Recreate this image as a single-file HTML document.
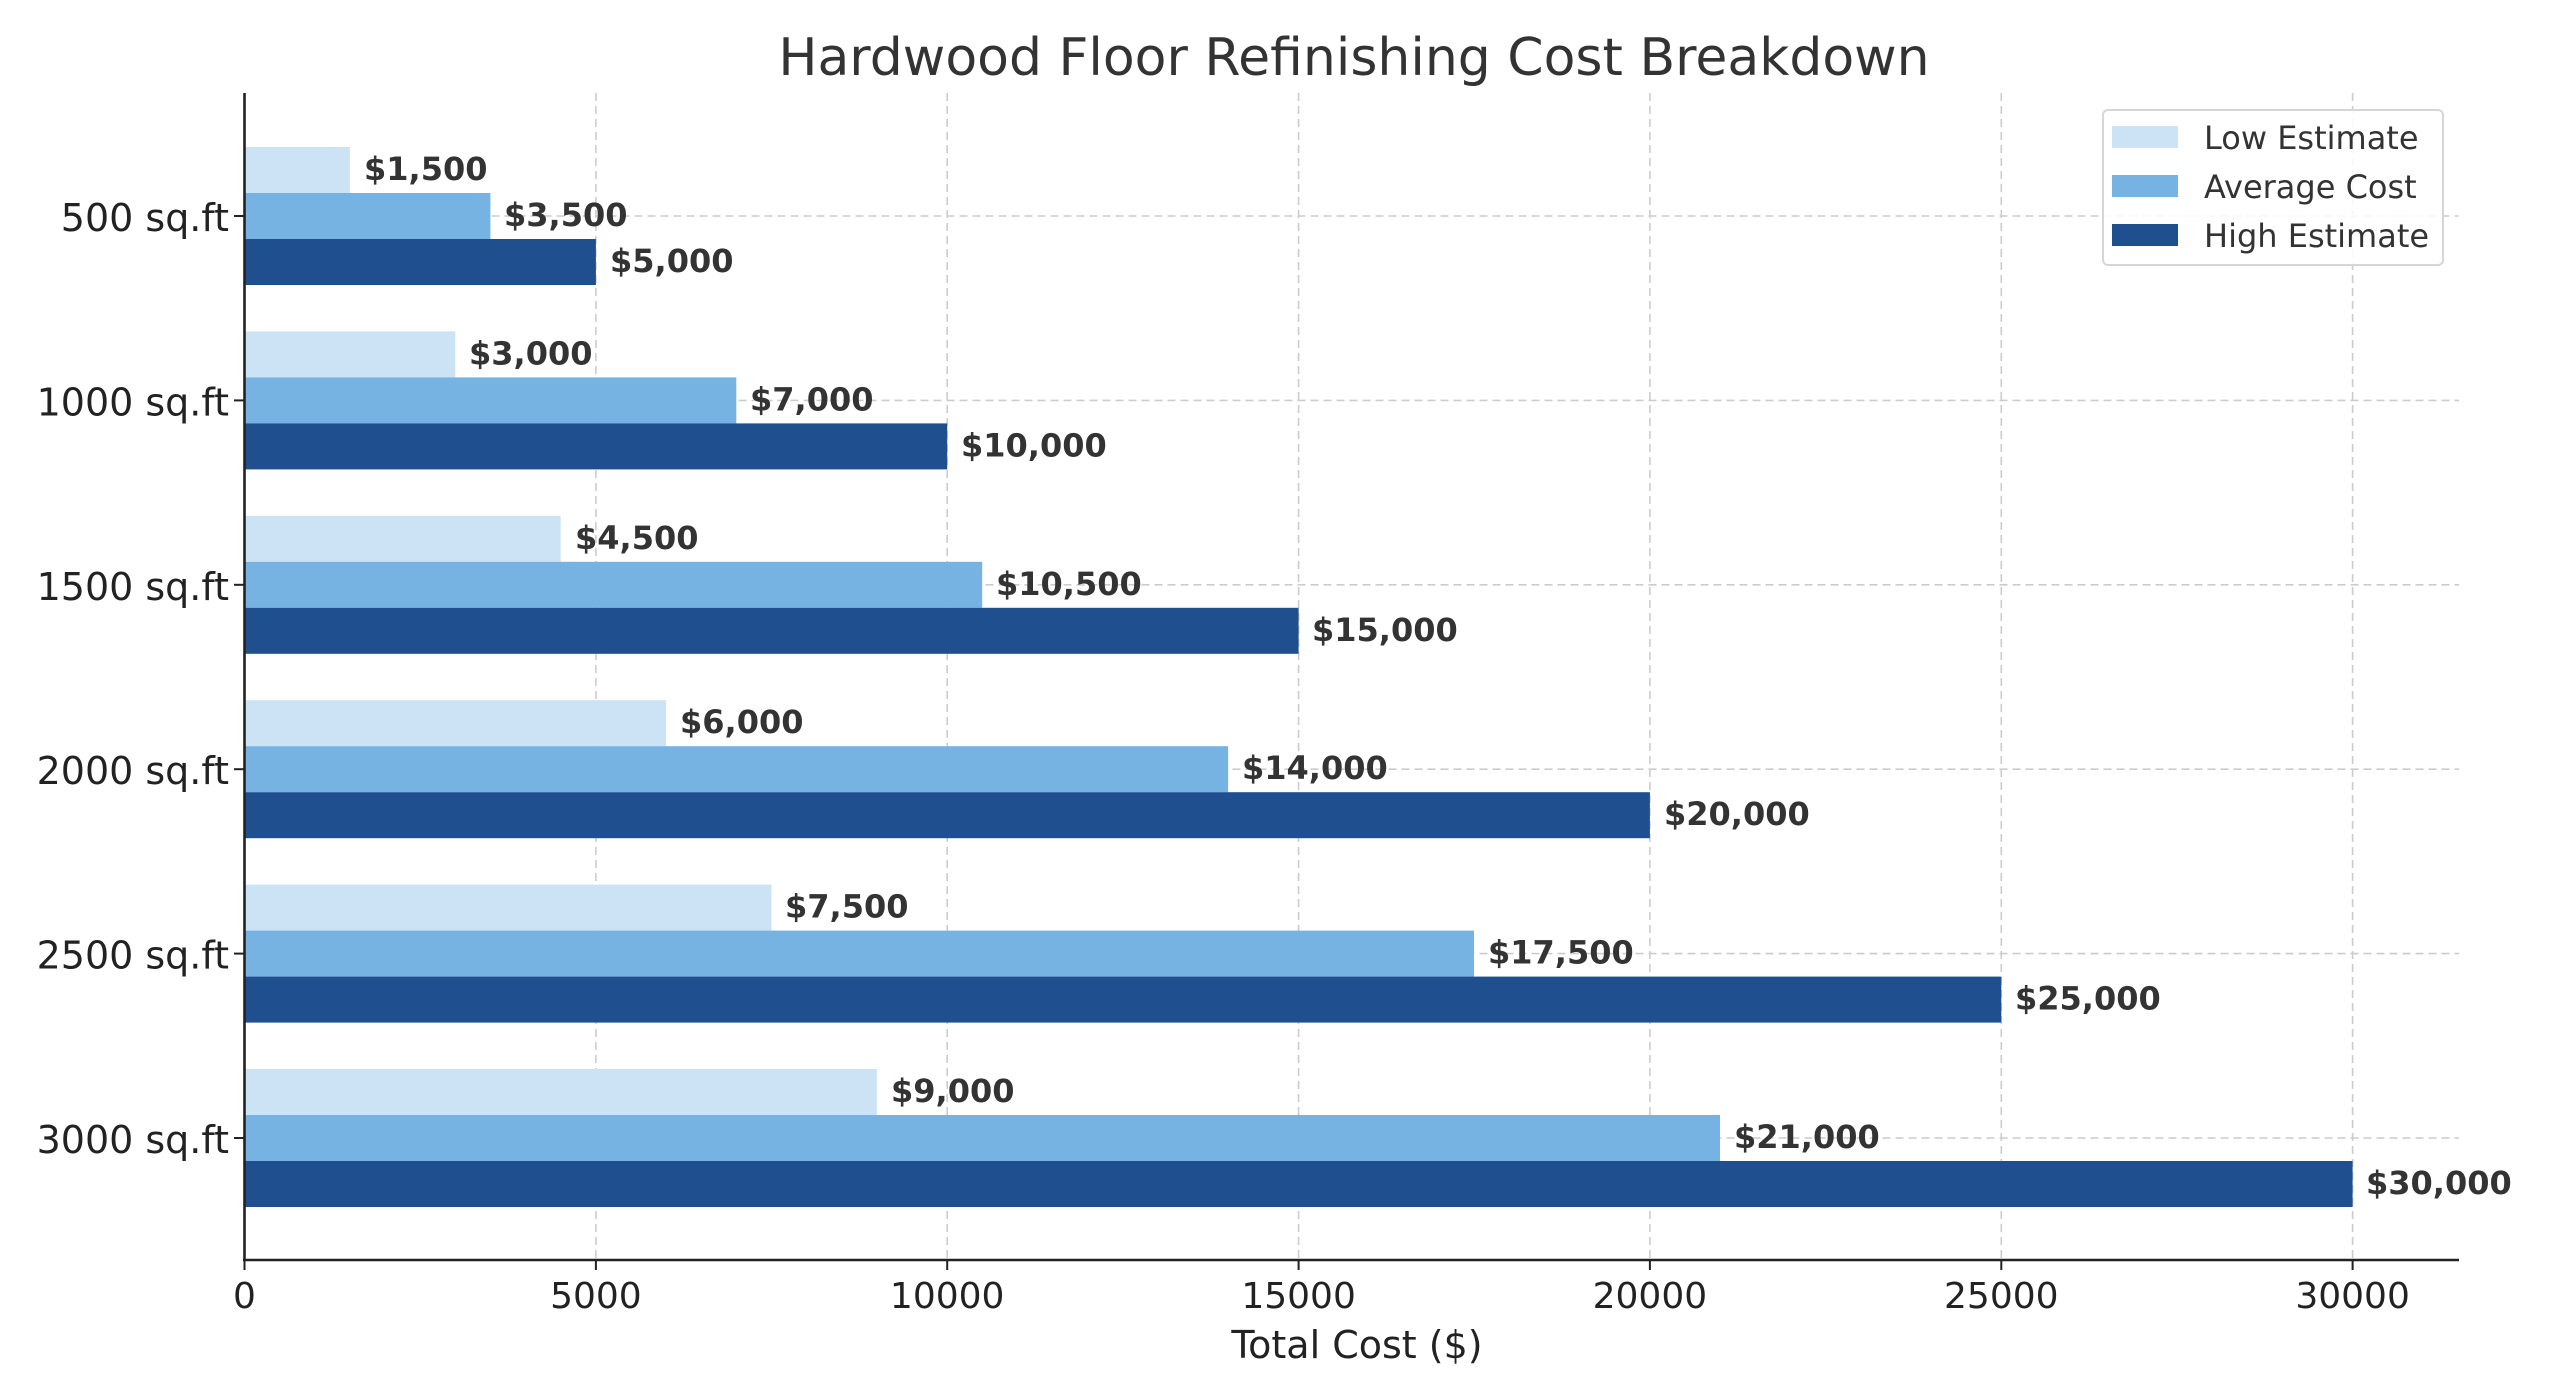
<!DOCTYPE html>
<html><head><meta charset="utf-8"><style>
html,body{margin:0;padding:0;background:#fff;}
svg{display:block;font-family:"DejaVu Sans","Liberation Sans",sans-serif;}
</style></head><body>
<svg width="2560" height="1396" viewBox="0 0 2560 1396" xmlns="http://www.w3.org/2000/svg">
<rect width="2560" height="1396" fill="#fff"/>
<g stroke="#cccccc" stroke-width="1.6" stroke-dasharray="8,5">
<line x1="595.9" y1="93" x2="595.9" y2="1260"/>
<line x1="947.2" y1="93" x2="947.2" y2="1260"/>
<line x1="1298.6" y1="93" x2="1298.6" y2="1260"/>
<line x1="1649.9" y1="93" x2="1649.9" y2="1260"/>
<line x1="2001.3" y1="93" x2="2001.3" y2="1260"/>
<line x1="2352.6" y1="93" x2="2352.6" y2="1260"/>
<line x1="244.5" y1="216" x2="2459" y2="216"/>
<line x1="244.5" y1="400.4" x2="2459" y2="400.4"/>
<line x1="244.5" y1="584.8" x2="2459" y2="584.8"/>
<line x1="244.5" y1="769.2" x2="2459" y2="769.2"/>
<line x1="244.5" y1="953.6" x2="2459" y2="953.6"/>
<line x1="244.5" y1="1138" x2="2459" y2="1138"/>
</g>
<g>
<rect x="244.5" y="147" width="105.4" height="46" fill="#cce3f6"/>
<rect x="244.5" y="193" width="245.9" height="46" fill="#76b3e3"/>
<rect x="244.5" y="239" width="351.4" height="46" fill="#1f4f8f"/>
<rect x="244.5" y="331.4" width="210.8" height="46" fill="#cce3f6"/>
<rect x="244.5" y="377.4" width="491.8" height="46" fill="#76b3e3"/>
<rect x="244.5" y="423.4" width="702.7" height="46" fill="#1f4f8f"/>
<rect x="244.5" y="515.8" width="316.2" height="46" fill="#cce3f6"/>
<rect x="244.5" y="561.8" width="737.7" height="46" fill="#76b3e3"/>
<rect x="244.5" y="607.8" width="1054.1" height="46" fill="#1f4f8f"/>
<rect x="244.5" y="700.2" width="421.6" height="46" fill="#cce3f6"/>
<rect x="244.5" y="746.2" width="983.6" height="46" fill="#76b3e3"/>
<rect x="244.5" y="792.2" width="1405.4" height="46" fill="#1f4f8f"/>
<rect x="244.5" y="884.6" width="527" height="46" fill="#cce3f6"/>
<rect x="244.5" y="930.6" width="1229.5" height="46" fill="#76b3e3"/>
<rect x="244.5" y="976.6" width="1756.8" height="46" fill="#1f4f8f"/>
<rect x="244.5" y="1069" width="632.4" height="46" fill="#cce3f6"/>
<rect x="244.5" y="1115" width="1475.5" height="46" fill="#76b3e3"/>
<rect x="244.5" y="1161" width="2108.1" height="46" fill="#1f4f8f"/>
</g>
<g font-weight="bold" font-size="32" fill="#333" dominant-baseline="central">
<text x="364" y="169">$1,500</text>
<text x="504" y="215">$3,500</text>
<text x="610" y="261">$5,000</text>
<text x="469" y="353.4">$3,000</text>
<text x="750" y="399.4">$7,000</text>
<text x="961" y="445.4">$10,000</text>
<text x="575" y="537.8">$4,500</text>
<text x="996" y="583.8">$10,500</text>
<text x="1312" y="629.8">$15,000</text>
<text x="680" y="722.2">$6,000</text>
<text x="1242" y="768.2">$14,000</text>
<text x="1664" y="814.2">$20,000</text>
<text x="785" y="906.6">$7,500</text>
<text x="1488" y="952.6">$17,500</text>
<text x="2015" y="998.6">$25,000</text>
<text x="891" y="1091">$9,000</text>
<text x="1734" y="1137">$21,000</text>
<text x="2366" y="1183">$30,000</text>
</g>
<g stroke="#222" stroke-width="2.6">
<line x1="244.5" y1="93" x2="244.5" y2="1261"/>
<line x1="243" y1="1260" x2="2459" y2="1260"/>
</g>
<g stroke="#222" stroke-width="2">
<line x1="244.5" y1="1260" x2="244.5" y2="1270"/>
<line x1="595.9" y1="1260" x2="595.9" y2="1270"/>
<line x1="947.2" y1="1260" x2="947.2" y2="1270"/>
<line x1="1298.6" y1="1260" x2="1298.6" y2="1270"/>
<line x1="1649.9" y1="1260" x2="1649.9" y2="1270"/>
<line x1="2001.3" y1="1260" x2="2001.3" y2="1270"/>
<line x1="2352.6" y1="1260" x2="2352.6" y2="1270"/>
<line x1="234" y1="216" x2="244.5" y2="216"/>
<line x1="234" y1="400.4" x2="244.5" y2="400.4"/>
<line x1="234" y1="584.8" x2="244.5" y2="584.8"/>
<line x1="234" y1="769.2" x2="244.5" y2="769.2"/>
<line x1="234" y1="953.6" x2="244.5" y2="953.6"/>
<line x1="234" y1="1138" x2="244.5" y2="1138"/>
</g>
<g font-size="36" fill="#222" text-anchor="middle">
<text x="244.5" y="1308">0</text>
<text x="595.9" y="1308">5000</text>
<text x="947.2" y="1308">10000</text>
<text x="1298.6" y="1308">15000</text>
<text x="1649.9" y="1308">20000</text>
<text x="2001.3" y="1308">25000</text>
<text x="2352.6" y="1308">30000</text>
</g>
<g font-size="38" fill="#222" text-anchor="end" dominant-baseline="central">
<text x="229" y="218">500 sq.ft</text>
<text x="229" y="402.4">1000 sq.ft</text>
<text x="229" y="586.8">1500 sq.ft</text>
<text x="229" y="771.2">2000 sq.ft</text>
<text x="229" y="955.6">2500 sq.ft</text>
<text x="229" y="1140">3000 sq.ft</text>
</g>
<text x="1357" y="1358" font-size="38" fill="#222" text-anchor="middle">Total Cost ($)</text>
<text x="1354" y="75" font-size="52" fill="#333" text-anchor="middle">Hardwood Floor Refinishing Cost Breakdown</text>
<rect x="2103" y="110" width="340" height="155" rx="5" fill="#fff" fill-opacity="0.85" stroke="#d6d6d6" stroke-width="2"/>
<rect x="2112" y="126" width="66" height="22" fill="#cce3f6"/>
<rect x="2112" y="175" width="66" height="22" fill="#76b3e3"/>
<rect x="2112" y="224" width="66" height="22" fill="#1f4f8f"/>
<g font-size="32" fill="#333" dominant-baseline="central">
<text x="2204" y="138">Low Estimate</text>
<text x="2204" y="187">Average Cost</text>
<text x="2204" y="236">High Estimate</text>
</g>
</svg>
</body></html>
